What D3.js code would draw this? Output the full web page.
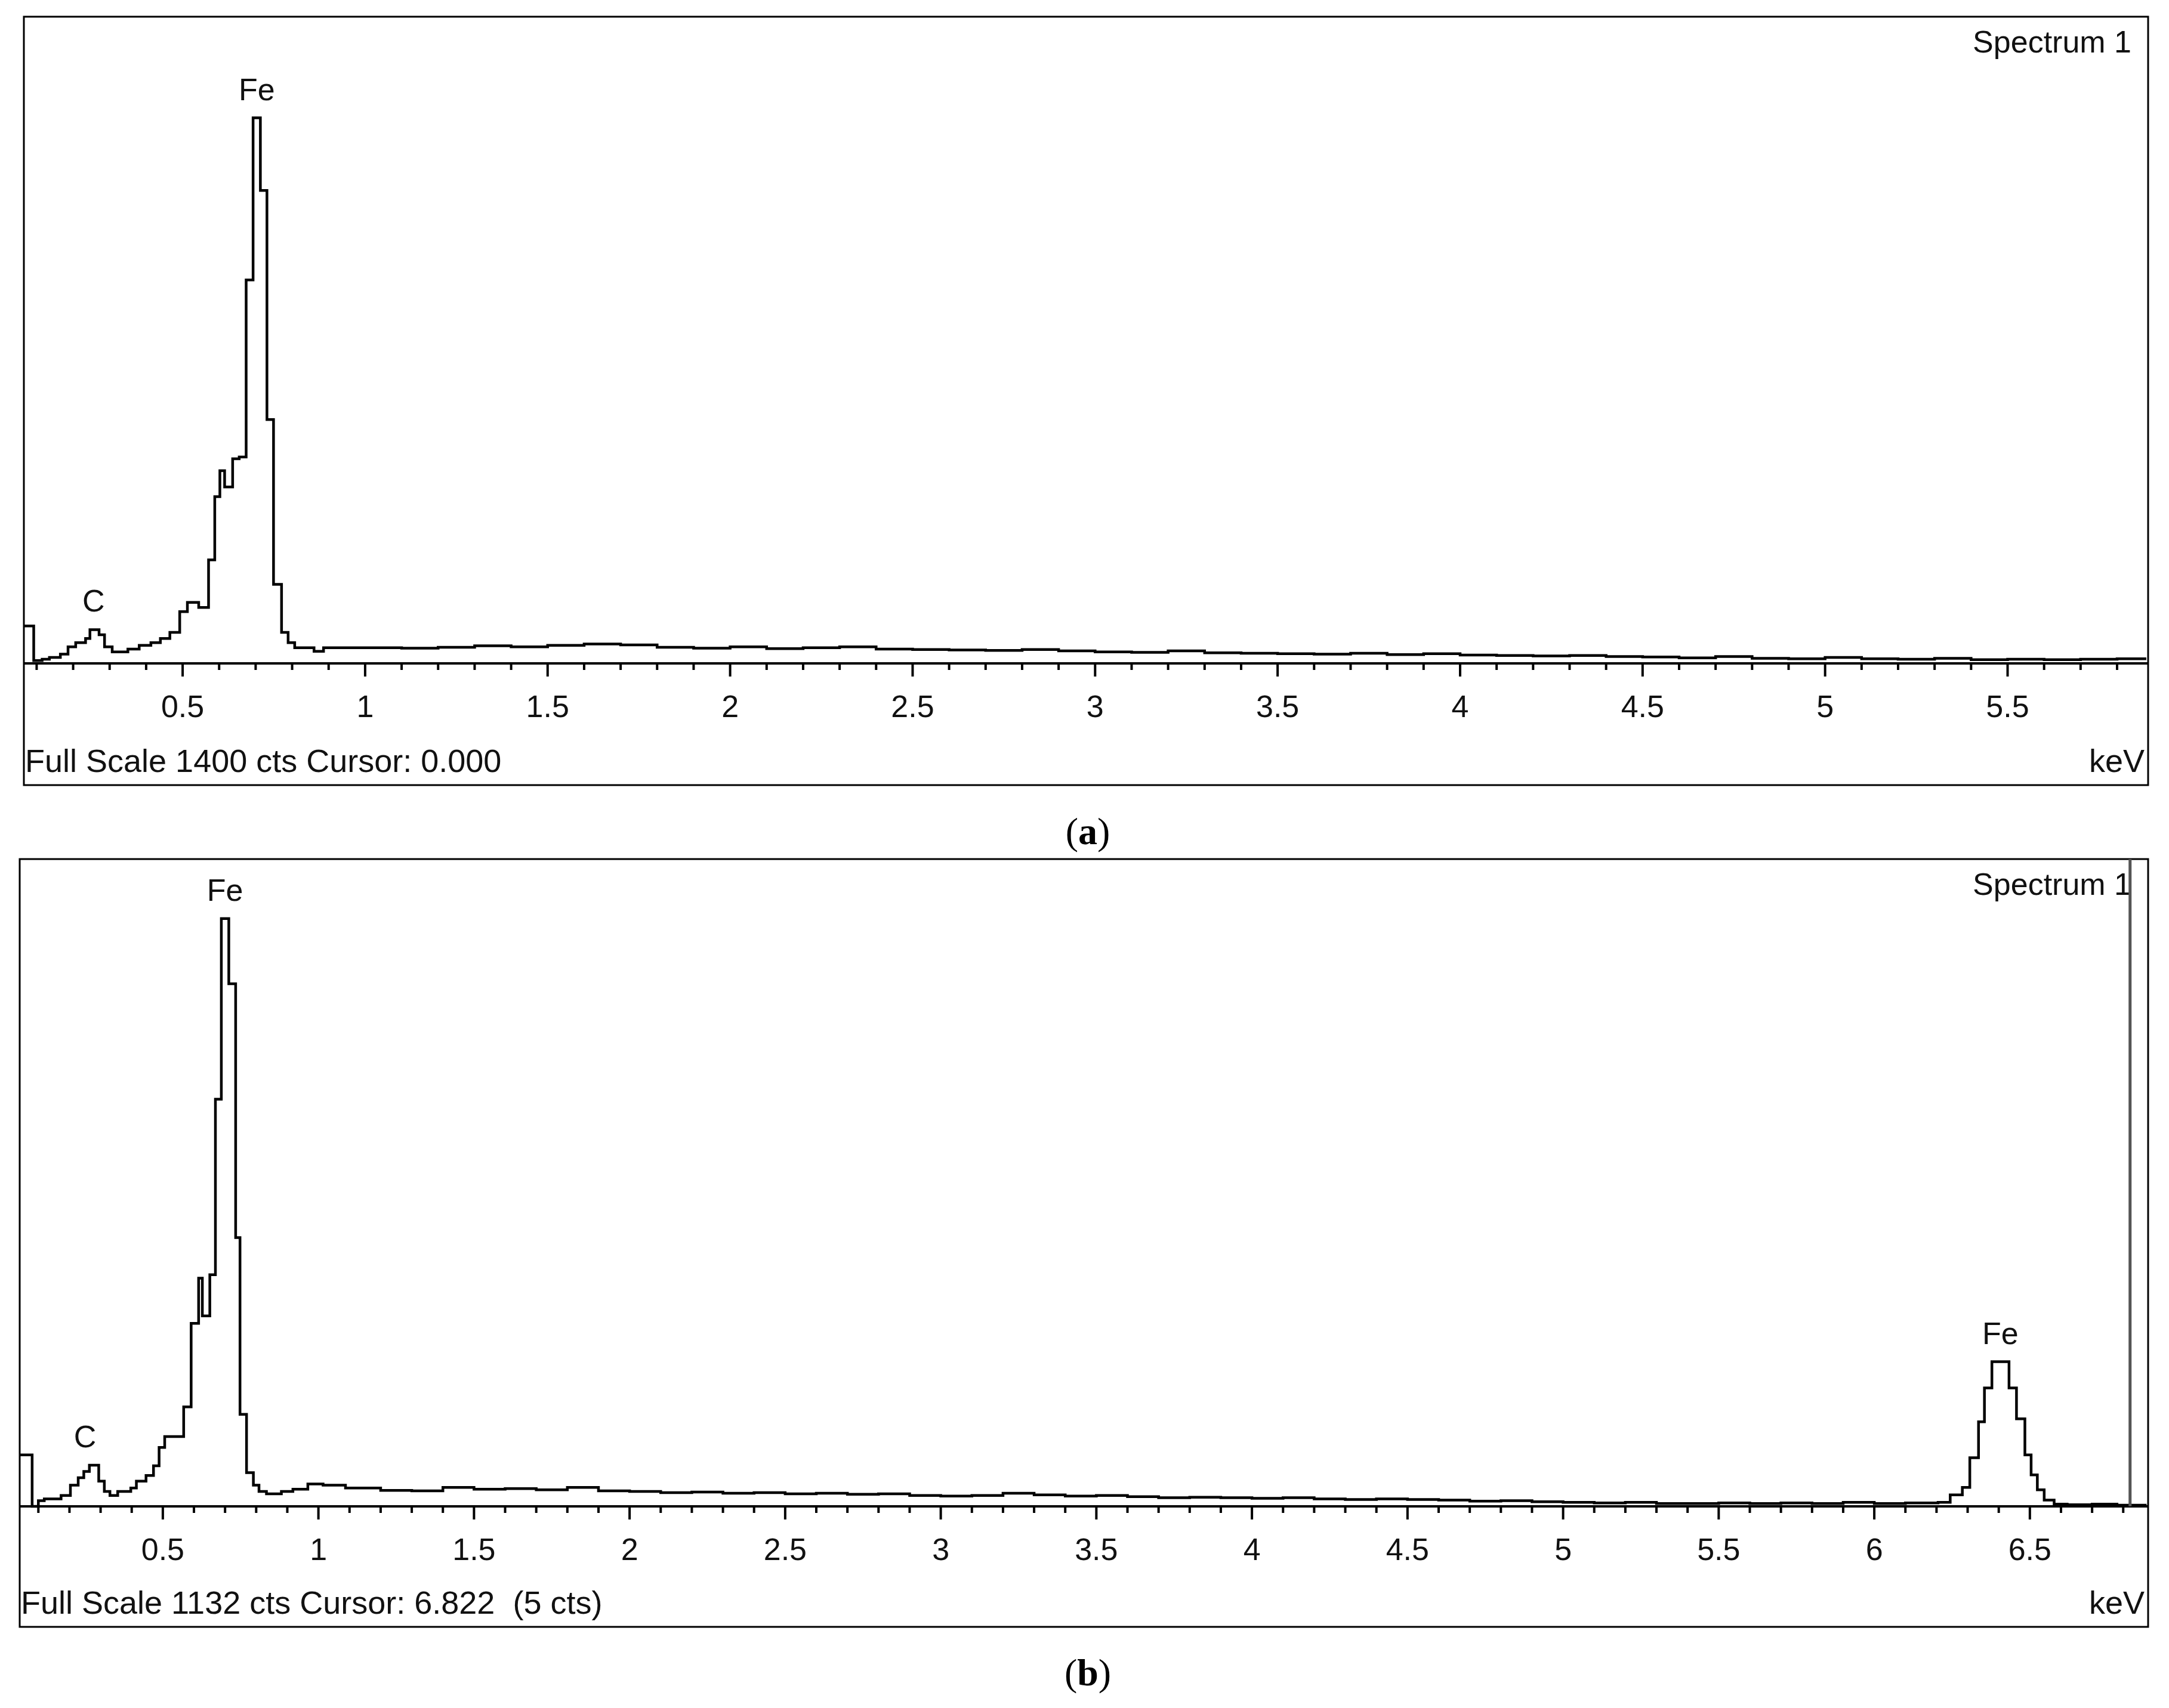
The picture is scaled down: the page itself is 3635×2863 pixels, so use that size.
<!DOCTYPE html>
<html><head><meta charset="utf-8">
<script src="https://cdn.jsdelivr.net/npm/d3@7"></script>
<style>body{margin:0;background:#fff}svg{display:block}text{white-space:pre}</style>
</head><body>
<script>
// ---- Panel (a) data: bin start energies (keV) and counts ----
const aEnergy = [0.065,0.092,0.115,0.135,0.165,0.186,0.207,0.234,0.246,0.271,0.286,0.307,0.35,0.381,0.413,0.439,0.465,0.492,0.513,0.544,0.571,0.588,0.602,0.615,0.637,0.655,0.674,0.693,0.713,0.731,0.749,0.771,0.789,0.807,0.86,0.886,
1.0,1.1,1.2,1.3,1.4,1.5,1.6,1.7,1.8,1.9,2.0,2.1,2.2,2.3,2.4,2.5,2.6,2.7,2.8,2.9,3.0,3.1,3.2,3.3,3.4,3.5,3.6,3.7,3.8,3.9,4.0,4.1,4.2,4.3,4.4,4.5,4.6,4.7,4.8,4.9,5.0,5.1,5.2,5.3,5.4,5.5,5.6,5.7,5.8];
const aCounts = [81,6,9,13,20,36,45,54,73,62,36,25,31,39,45,54,67,112,132,121,224,361,417,382,443,447,830,1181,1024,528,171,67,45,34,26,34,
34,33,35,38,36,39,42,40,35,33,36,32,34,36,31,30,29,28,30,27,25,24,27,23,22,21,20,22,19,21,18,17,16,17,15,14,12,15,11,10,13,10,9,11,8,9,8,9,10];
// ---- Panel (b) data ----
const bEnergy = [0.04,0.08,0.1,0.119,0.173,0.203,0.228,0.246,0.264,0.294,0.312,0.33,0.355,0.397,0.415,0.446,0.47,0.488,0.506,0.567,0.591,0.615,0.627,0.651,0.669,0.688,0.712,0.734,0.748,0.769,0.791,0.809,0.833,0.881,0.918,0.966,1.015,1.087,
1.2,1.3,1.4,1.5,1.6,1.7,1.8,1.9,2.0,2.1,2.2,2.3,2.4,2.5,2.6,2.7,2.8,2.9,3.0,3.1,3.2,3.3,3.4,3.5,3.6,3.7,3.8,3.9,4.0,4.1,4.2,4.3,4.4,4.5,4.6,4.7,4.8,4.9,5.0,5.1,5.2,5.3,5.4,5.5,5.6,5.7,5.8,5.9,6.0,6.1,
6.205,6.244,6.283,6.307,6.335,6.354,6.378,6.433,6.457,6.484,6.504,6.524,6.546,6.578,6.62,6.7,6.78];
const bCounts = [90,0,10,13,19,37,50,61,72,44,26,19,26,32,44,54,71,103,122,174,320,399,333,405,712,1028,914,470,161,59,37,26,22,26,30,39,37,32,
28,27,33,30,31,29,33,27,26,24,25,23,24,22,23,21,22,19,18,19,23,20,18,19,17,15,16,15,14,15,13,12,13,12,11,9,10,8,7,6,7,5,5,6,5,6,5,7,5,6,
7,20,33,85,148,207,253,207,153,90,55,29,11,4,3,4,2];
const aTicks = [0.5,1,1.5,2,2.5,3,3.5,4,4.5,5,5.5];
const bTicks = [0.5,1,1.5,2,2.5,3,3.5,4,4.5,5,5.5,6,6.5];
const aLabels = [{t:"C",e:0.256,c:73},{t:"Fe",e:0.703,c:1181}];
const bLabels = [{t:"C",e:0.25,c:72},{t:"Fe",e:0.70,c:1028},{t:"Fe",e:6.405,c:253}];

const W=3635,H=2863;
const svg=d3.select("body").append("svg").attr("width",W).attr("height",H);
const FONT="Arial, 'Liberation Sans', sans-serif";

function panel(o){
  const g=svg.append("g");
  g.append("rect").attr("x",o.left).attr("y",o.top).attr("width",o.right-o.left).attr("height",o.bottom-o.top)
    .attr("fill","none").attr("stroke","#000").attr("stroke-width",3);
  const x=d3.scaleLinear().domain(o.domain).range([o.left,o.right]);
  const y=d3.scaleLinear().domain([0,o.full]).range([o.base,o.top]);
  g.append("line").attr("x1",o.left).attr("x2",o.right).attr("y1",o.base).attr("y2",o.base).attr("stroke","#000").attr("stroke-width",4);
  const minor=d3.range(Math.ceil(o.domain[0]*10),Math.floor(o.domain[1]*10)+1).map(v=>v/10);
  g.selectAll(".mt").data(minor).join("line").attr("x1",d=>x(d)).attr("x2",d=>x(d))
    .attr("y1",o.base).attr("y2",d=>o.base+(Math.abs(d*2-Math.round(d*2))<1e-6?22:11)).attr("stroke","#000").attr("stroke-width",4);
  g.selectAll(".tl").data(o.ticks).join("text").attr("x",d=>x(d)).attr("y",o.base+90)
    .attr("text-anchor","middle").attr("font-family",FONT).attr("font-size",52).attr("fill","#111").text(d=>d);
  const pts=o.E.map((e,i)=>[e,o.C[i]]);
  pts.push([o.domain[1]-0.005,o.C[o.C.length-1]]);
  const line=d3.line().x(d=>x(d[0])).y(d=>y(d[1])).curve(d3.curveStepAfter);
  g.append("path").attr("d",line(pts)).attr("fill","none").attr("stroke","#000").attr("stroke-width",4.5);
  g.selectAll(".pl").data(o.labels).join("text").attr("x",d=>x(d.e)).attr("y",d=>y(d.c)-30)
    .attr("text-anchor","middle").attr("font-family",FONT).attr("font-size",52).attr("fill","#111").text(d=>d.t);
  g.append("text").attr("x",o.right-28).attr("y",o.top+60).attr("text-anchor","end").attr("font-family",FONT)
    .attr("font-size",52).attr("fill","#111").text("Spectrum 1");
  g.append("text").attr("x",o.left+2).attr("y",o.bottom-22).attr("font-family",FONT).attr("font-size",54).attr("fill","#111").text(o.footer);
  g.append("text").attr("x",o.right-6).attr("y",o.bottom-22).attr("text-anchor","end").attr("font-family",FONT).attr("font-size",54).attr("fill","#111").text("keV");
  if(o.cursor!=null){
    g.append("line").attr("x1",x(o.cursor)).attr("x2",x(o.cursor)).attr("y1",o.top).attr("y2",o.base).attr("stroke","#555").attr("stroke-width",5);
  }
  const cap=svg.append("text").attr("x",1823).attr("y",o.capY).attr("text-anchor","middle")
    .attr("font-family","'Liberation Serif', 'Times New Roman', serif").attr("font-size",64).attr("fill","#000");
  cap.append("tspan").text("(");
  cap.append("tspan").attr("font-weight","bold").text(o.cap);
  cap.append("tspan").text(")");
}

panel({left:40,right:3600,top:28,bottom:1316,base:1112,domain:[0.065,5.885],full:1400,
  E:aEnergy,C:aCounts,ticks:aTicks,labels:aLabels,footer:"Full Scale 1400 cts Cursor: 0.000",cursor:null,cap:"a",capY:1415});
panel({left:33,right:3600,top:1440,bottom:2727,base:2525,domain:[0.04,6.88],full:1132,
  E:bEnergy,C:bCounts,ticks:bTicks,labels:bLabels,footer:"Full Scale 1132 cts Cursor: 6.822  (5 cts)",cursor:6.822,cap:"b",capY:2825});
</script>
</body></html>
